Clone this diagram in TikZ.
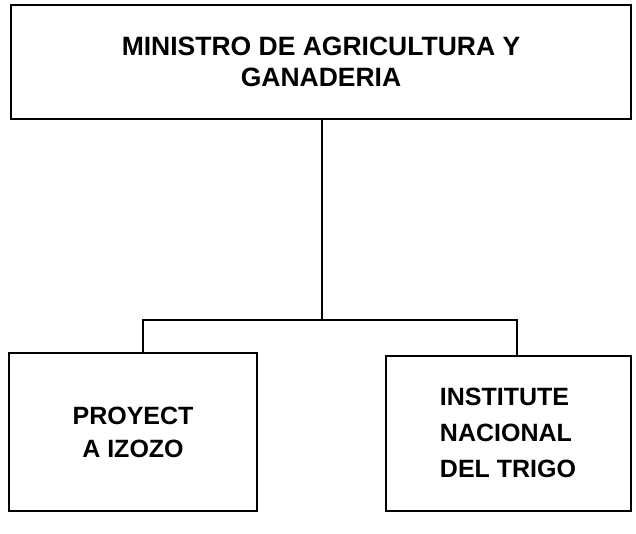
\documentclass[tikz,border=0pt]{standalone}
\usepackage{fontspec}
\setmainfont{Liberation Sans}
\usepackage{tikz}
\usetikzlibrary{positioning}

\begin{document}
\begin{tikzpicture}[x=1pt, y=-1pt, line width=2pt, font=\bfseries\fontsize{25}{33}\selectfont]
        \useasboundingbox (0,0) rectangle (636,533);

        % Ministry
        \node (ministro) [draw, rectangle, minimum width=620pt, minimum height=114pt, align=center, font=\bfseries\fontsize{26.5}{31}\selectfont] at (321,62) {MINISTRO DE AGRICULTURA Y\\GANADERIA};

        % Units
        \node (proyecto) [draw, rectangle, minimum width=248pt, minimum height=158pt, align=center] at (133,432) {PROYECT\\A IZOZO};
        \node (instituto) [draw, rectangle, minimum width=245pt, minimum height=155pt, align=left, font=\bfseries\fontsize{25}{36}\selectfont] at (508,433) {INSTITUTE\\NACIONAL\\DEL TRIGO};

        % Lines
        \coordinate (bus) at (322,320);
        \draw (ministro.south -| bus) -- (bus);
        \draw (bus) -| ([xshift=10pt]proyecto.north);
        \draw (bus) -| ([xshift=9pt]instituto.north);
    \end{tikzpicture}
\end{document}
